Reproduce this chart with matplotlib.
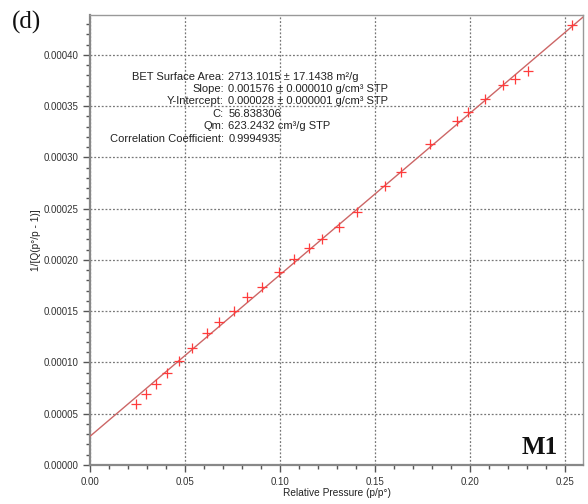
import matplotlib
matplotlib.use("Agg")
import matplotlib.pyplot as plt
from matplotlib.ticker import MultipleLocator, FormatStrFormatter
import numpy as np

# BET plot data: relative pressure vs 1/[Q(p°/p - 1)]
rel_pressure = [0.0240, 0.0293, 0.0346, 0.0407, 0.0468, 0.0535, 0.0614, 0.0679,
                0.0758, 0.0828, 0.0904, 0.0996, 0.1076, 0.1153, 0.1219, 0.1311,
                0.1404, 0.1553, 0.1637, 0.1789, 0.1930, 0.1992, 0.2081, 0.2175,
                0.2237, 0.2307, 0.2535]
bet_value = [0.0000592, 0.0000690, 0.0000787, 0.0000900, 0.0001018, 0.0001144,
             0.0001285, 0.0001392, 0.0001505, 0.0001636, 0.0001740, 0.0001880,
             0.0002007, 0.0002114, 0.0002205, 0.0002319, 0.0002465, 0.0002720,
             0.0002856, 0.0003129, 0.0003356, 0.0003444, 0.0003569, 0.0003707,
             0.0003763, 0.0003844, 0.0004296]

slope = 0.001576
intercept = 0.000028

info_labels = ["BET Surface Area:", "Slope:", "Y-Intercept:", "C:", "Qm:",
               "Correlation Coefficient:"]
info_values = ["2713.1015 ± 17.1438 m²/g", "0.001576 ± 0.000010 g/cm³ STP",
               "0.000028 ± 0.000001 g/cm³ STP", "56.838306",
               "623.2432 cm³/g STP", "0.9994935"]

plt.rcParams['font.family'] = ['Liberation Sans', 'DejaVu Sans']

fig = plt.figure(figsize=(5.88, 5.04), dpi=100)
ax = fig.add_axes([0.1531, 0.0774, 0.8384, 0.8928])

xmin, xmax = 0.0, 0.2595
ymin, ymax = 0.0, 0.000439

xs = np.array([xmin, xmax])
ax.plot(xs, intercept + slope * xs, color='#cc6666', lw=1.0, zorder=3)
ax.plot(rel_pressure, bet_value, linestyle='none', marker='+', markersize=7,
        markeredgewidth=0.9, color='#ff3b3b', zorder=4)

ax.set_xlim(xmin, xmax)
ax.set_ylim(ymin, ymax)
ax.xaxis.set_major_locator(MultipleLocator(0.05))
ax.xaxis.set_minor_locator(MultipleLocator(0.01))
ax.yaxis.set_major_locator(MultipleLocator(0.00005))
ax.yaxis.set_minor_locator(MultipleLocator(0.00001))
ax.xaxis.set_major_formatter(FormatStrFormatter('%.2f'))
ax.yaxis.set_major_formatter(FormatStrFormatter('%.5f'))

ax.grid(True, which='major', linestyle=(0, (1.5, 1.5)), color='#777777', lw=0.9)
ax.tick_params(which='both', direction='out', colors='#555555',
               labelcolor='#333333', labelsize=7)
ax.tick_params(which='major', length=5, width=1.0)
ax.tick_params(which='minor', length=3, width=1.0)

for side in ['top', 'right']:
    ax.spines[side].set_color('#999999')
    ax.spines[side].set_linewidth(1.0)
for side in ['left', 'bottom']:
    ax.spines[side].set_color('#888888')
    ax.spines[side].set_linewidth(1.6)

ax.set_xlabel('Relative Pressure (p/p°)', fontsize=7.3, color='#222222', labelpad=1)
ax.set_ylabel('1/[Q(p°/p - 1)]', fontsize=7.3, color='#222222', labelpad=2)

# Fit statistics block
y0 = 0.000379
dy = 0.0000121
for i, (lab, val) in enumerate(zip(info_labels, info_values)):
    ax.text(0.0705, y0 - i * dy, lab, ha='right', va='center', fontsize=8,
            color='#222222')
    ax.text(0.0727, y0 - i * dy, val, ha='left', va='center', fontsize=8,
            color='#222222')

fig.text(0.020, 0.955, '(d)', fontsize=18, family='Liberation Serif',
         ha='left', va='center', color='#111111')
ax.text(0.2365, 0.0000166, 'M1', fontsize=18, family='Liberation Serif',
        fontweight='bold', ha='center', va='center', color='#111111')

fig.savefig('out.png', dpi=100)
